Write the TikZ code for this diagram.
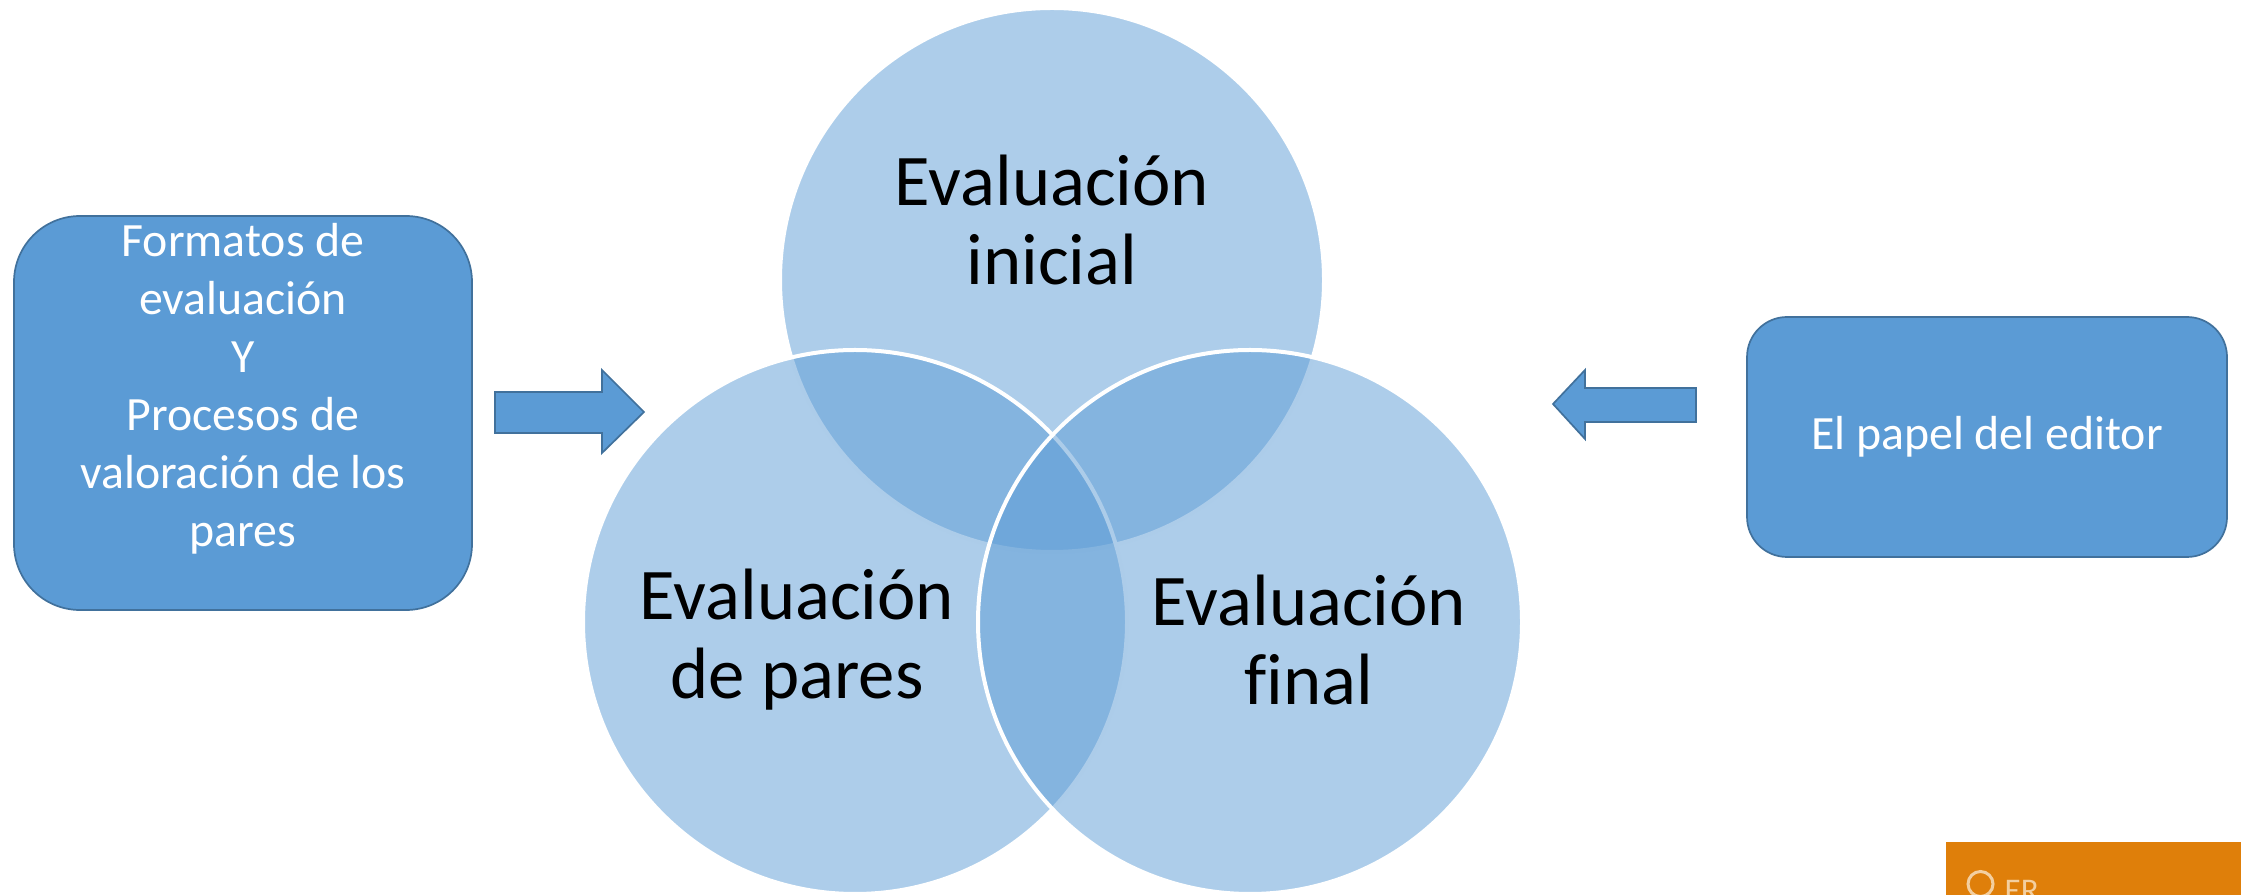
\documentclass[tikz,border=0pt]{standalone}
\usepackage{fontspec}
\setmainfont{Carlito}[Ligatures=NoCommon]
\definecolor{vennblue}{HTML}{5B9BD5}
\definecolor{boxline}{HTML}{41719C}
\definecolor{oerorange}{HTML}{DF7F0A}
\definecolor{oerlight}{HTML}{F3CFA0}

\begin{document}
\begin{tikzpicture}[x=0.1mm,y=-0.1mm]

      \tikzset{venn/.style={circle, fill=vennblue, fill opacity=0.5, draw=white, line width=0.4mm, minimum size=54.4mm, inner sep=0pt},
               venntext/.style={align=center, text=black, font=\fontsize{20.7}{22.5}\selectfont},
               bluebox/.style={draw=boxline, fill=vennblue, line width=0.17mm, text=white, align=center, font=\fontsize{13.6}{16.5}\selectfont},
               blockarrow/.style={draw=boxline, fill=vennblue, line width=0.17mm, line join=miter}}
      \useasboundingbox (0,0) rectangle (2241,895);
%% Circles
      	\node[venn] (inicial) at (1052,280) {};
      	\node[venn] (pares) at (855,622) {};
      	\node[venn] (final) at (1250,622) {};
      	\node[venntext] (inicialtxt) at (1052,220) {Evaluación\\inicial};
      	\node[venntext] (parestxt) at (797,640) {Evaluación\\de pares};
      	\node[venntext] (finaltxt) at (1309,640) {Evaluación\\final};
%% Boxes
      	\node[bluebox, minimum width=45.8mm, minimum height=39.4mm, rounded corners=6.6mm] (formatos) at (243,413) {};
      	\node[align=center, text=white, font=\fontsize{13.6}{16.5}\selectfont] (formatostxt) at (243,389)
      	      {Formatos de\\evaluación\\Y\\Procesos de\\valoración de los\\pares};
      	\node[bluebox, minimum width=48mm, minimum height=24mm, rounded corners=4mm] (editor) at (1987,437) {El papel del editor};
%Arrows
		\draw[blockarrow] (495,392) -- (602,392) -- (602,370) -- (644,412) -- (602,453) -- (602,433) -- (495,433) -- cycle;
		\draw[blockarrow] (1696,388) -- (1585,388) -- (1585,370) -- (1553,404) -- (1585,439) -- (1585,422) -- (1696,422) -- cycle;
%Logo
		\fill[oerorange] (1946,842) rectangle (2241,895);
		\begin{scope}
		\clip (1946,842) rectangle (2241,895);
		\draw[oerlight, line width=0.3mm] (1980.5,884) circle[radius=1.25mm];
		\node[text=oerlight, font=\fontsize{9.4}{9.4}\selectfont, anchor=base west, inner sep=0pt] (oer) at (2004,902) {ER};
		\end{scope}

	\end{tikzpicture}
\end{document}
